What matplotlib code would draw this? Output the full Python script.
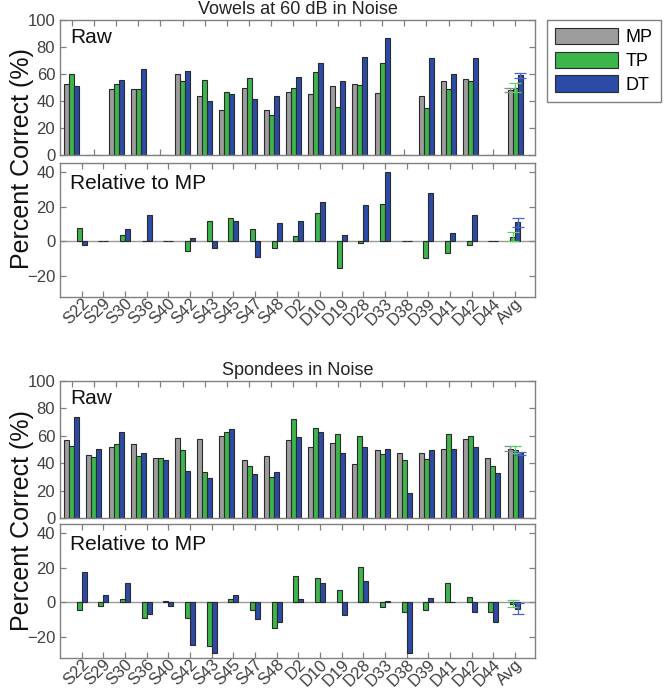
import matplotlib
matplotlib.use("Agg")
import matplotlib.pyplot as plt
import matplotlib.transforms as mtransforms
from matplotlib.patches import Patch
import numpy as np

plt.rcParams['font.family'] = ['Liberation Sans', 'DejaVu Sans']

categories = ['S22', 'S29', 'S30', 'S36', 'S40', 'S42', 'S43', 'S45', 'S47', 'S48',
              'D2', 'D10', 'D19', 'D28', 'D33', 'D38', 'D39', 'D41', 'D42', 'D44', 'Avg']
series_names = ['MP', 'TP', 'DT']

# Vowels at 60 dB in Noise - raw percent correct
vow_mp = [52.4, 0, 48.6, 48.6, 0, 60, 43.4, 33.3, 50, 33.3, 46.4, 45, 51, 52.4, 46, 0, 44, 55, 56.5, 0, 48]
vow_tp = [60, 0, 52.3, 48.6, 0, 55, 55.5, 47, 57, 29.6, 50, 61.5, 35.5, 52, 68, 0, 35, 48.6, 55, 0, 50]
vow_dt = [51, 0, 55.5, 63.4, 0, 62, 40, 45, 41.5, 44, 58, 68, 54.8, 72.8, 86.4, 0, 72, 60, 72, 0, 59]
vow_raw_err = [1.5, 3, 2]
# Vowels relative to MP
vow_rel_tp = [7.6, 0, 3.4, 0, 0, -5.5, 11.6, 13.3, 6.9, -3.8, 3.2, 16.2, -15.6, -0.8, 21.5, 0, -9.5, -7, -2.3, 0, 2.5]
vow_rel_dt = [-1.9, 0, 7, 14.9, 0, 1.9, -3.8, 11.4, -9, 10.7, 11.4, 22.5, 3.4, 20.6, 40, 0, 27.6, 4.8, 15.2, 0, 11]
vow_rel_err = [2.6, 2.5]

# Spondees in Noise - raw percent correct
spo_mp = [57, 46, 51.7, 54, 43.7, 58.5, 58, 60.2, 42, 44.9, 57, 51.7, 54.4, 39.3, 49.8, 47.3, 47.3, 50.2, 57.3, 43.7, 50.7]
spo_tp = [52.9, 44.4, 53.7, 45.4, 43.7, 50, 33.4, 62.7, 37.8, 29.8, 72, 65.6, 61, 59.5, 46.8, 42, 43.2, 61, 60.2, 37.8, 50]
spo_dt = [74, 50.5, 62.7, 47.3, 42, 34, 29.3, 64.6, 32.2, 33.9, 58.8, 62.7, 47.3, 51.7, 50.2, 18.5, 49.8, 50.2, 51.7, 32.7, 47.3]
spo_raw_err = [1.5, 2.7, 1.0]
# Spondees relative to MP
spo_rel_tp = [-4.3, -1.9, 2.1, -8.9, 0.5, -9, -25, 2.1, -4.2, -14.7, 15.1, 14, 6.8, 20.4, -2.5, -5.5, -4.2, 11.1, 3, -5.7, -0.8]
spo_rel_dt = [17.2, 4.3, 10.9, -7, -1.9, -24.5, -29.2, 4.3, -9.4, -11.1, 1.7, 10.9, -7.5, 12.5, 0.8, -29, 2.3, 0, -5.7, -11.1, -3.6]
spo_rel_err = [2.0, 3.0]

C_MP = '#9d9d9d'
C_TP = '#3cb54a'
C_DT = '#2c4ba6'
EDGE = '#2a2a2a'
SPINE = '#808080'
TXT = '#404040'

W, H = 666, 693
fig = plt.figure(figsize=(W / 100, H / 100), dpi=100)


def px_axes(left, top, right, bottom):
    return fig.add_axes([left / W, 1 - bottom / H, (right - left) / W, (bottom - top) / H])


x = np.arange(1, len(categories) + 1)


def style(ax):
    for s in ax.spines.values():
        s.set_color(SPINE)
        s.set_linewidth(1.0)
    ax.tick_params(direction='in', length=4, width=0.9, color=SPINE, top=True, right=True,
                   labelcolor=TXT, labelsize=12)


def raw_panel(ax, mp, tp, dt, err, title):
    bw = 0.227
    for vals, off, c in [(mp, -bw, C_MP), (tp, 0, C_TP), (dt, bw, C_DT)]:
        ax.bar(x + off, vals, width=bw, color=c, edgecolor=EDGE, linewidth=0.8, zorder=2)
    for vals, off, c, e in [(mp, -bw, '#8a8a8a', err[0]), (tp, 0, '#5ad068', err[1]), (dt, bw, '#4a63d0', err[2])]:
        ax.errorbar([x[-1] + off], [vals[-1]], yerr=[e], color=c, capsize=4, elinewidth=0.9,
                    capthick=0.9, fmt='none', zorder=3)
    ax.set_xlim(0.47, 21.9)
    ax.set_ylim(0, 100)
    ax.set_yticks([0, 20, 40, 60, 80, 100])
    ax.set_xticks(x)
    ax.set_xticklabels([])
    style(ax)
    ax.text(0.021, 0.94, 'Raw', transform=ax.transAxes, va='top', ha='left', fontsize=15, color='#111111')
    ax.set_title(title, fontsize=13, pad=4, color='#222222')


def rel_panel(ax, tp, dt, err):
    bw = 0.23
    ax.axhline(0, color='#9a9a9a', linewidth=1.0, zorder=1)
    for vals, off, c in [(tp, -bw / 2, C_TP), (dt, bw / 2, C_DT)]:
        ax.bar(x + off, vals, width=bw, color=c, edgecolor=EDGE, linewidth=0.8, zorder=2)
    for vals, off, c, e in [(tp, -bw / 2, '#5ad068', err[0]), (dt, bw / 2, '#4a63d0', err[1])]:
        ax.errorbar([x[-1] + off], [vals[-1]], yerr=[e], color=c, capsize=4, elinewidth=0.9,
                    capthick=0.9, fmt='none', zorder=3)
    ax.set_xlim(0.0, 21.92)
    ax.set_ylim(-32, 45)
    ax.set_yticks([-20, 0, 20, 40])
    ax.set_xticks(x)
    style(ax)
    ax.tick_params(axis='x', pad=3)
    ax.set_xticklabels(categories, rotation=45, ha='right', va='center', rotation_mode='anchor',
                       fontsize=12, color=TXT)
    shift = mtransforms.ScaledTranslation(5 / 100, 0, fig.dpi_scale_trans)
    for lab in ax.get_xticklabels():
        lab.set_transform(lab.get_transform() + shift)
    ax.text(0.021, 0.92, 'Relative to MP', transform=ax.transAxes, va='top', ha='left',
            fontsize=15, color='#111111')


ax1 = px_axes(60, 20, 535, 155)
ax2 = px_axes(60, 163, 535, 297)
ax3 = px_axes(60, 381, 535, 518)
ax4 = px_axes(60, 524, 535, 658)

raw_panel(ax1, vow_mp, vow_tp, vow_dt, vow_raw_err, 'Vowels at 60 dB in Noise')
rel_panel(ax2, vow_rel_tp, vow_rel_dt, vow_rel_err)
raw_panel(ax3, spo_mp, spo_tp, spo_dt, spo_raw_err, 'Spondees in Noise')
rel_panel(ax4, spo_rel_tp, spo_rel_dt, spo_rel_err)

fig.text(22 / W, 1 - 159 / H, 'Percent Correct (%)', rotation=90, ha='center', va='center',
         fontsize=18, color='#111111')
fig.text(22 / W, 1 - 521 / H, 'Percent Correct (%)', rotation=90, ha='center', va='center',
         fontsize=18, color='#111111')

handles = [Patch(facecolor=c, edgecolor=EDGE, linewidth=0.8) for c in (C_MP, C_TP, C_DT)]
leg = fig.legend(handles, series_names, loc='upper left', bbox_to_anchor=(547 / W, 1 - 20 / H),
                 fontsize=13, handlelength=3.5, handleheight=1.0, labelspacing=0.3,
                 handletextpad=0.4, borderpad=0.45, borderaxespad=0, fancybox=False,
                 framealpha=1, edgecolor=SPINE)
leg.get_frame().set_linewidth(1.0)

fig.savefig('out.png', dpi=100)
